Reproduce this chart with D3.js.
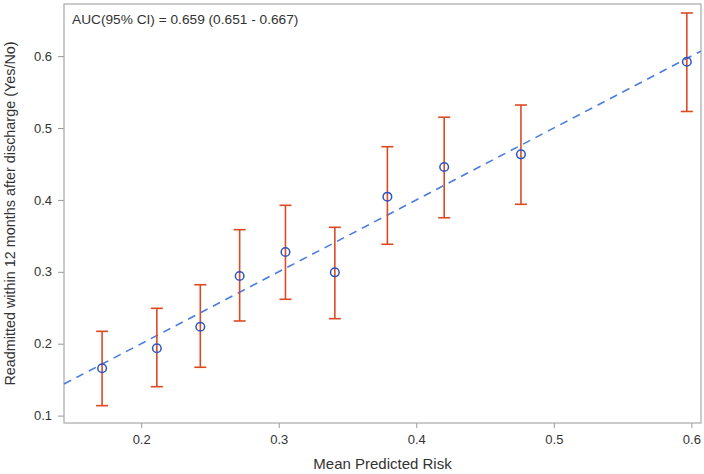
<!DOCTYPE html>
<html>
<head>
<meta charset="utf-8">
<script src="https://cdn.jsdelivr.net/npm/d3@7"></script>
<style>
body { margin: 0; background: #fff; }
text { font-family: "Liberation Sans", Arial, sans-serif; fill: #333; }
</style>
</head>
<body>
<div id="chart"></div>
<script>
// mean predicted risk per group and observed readmission rate with 95% CI
const predicted = [0.1716, 0.2114, 0.2430, 0.2716, 0.3049, 0.3408, 0.3790, 0.4203, 0.4761, 0.5967];
const observed  = [0.1658, 0.1936, 0.2236, 0.2942, 0.3275, 0.2993, 0.4045, 0.4458, 0.4634, 0.5922];
const lower     = [0.1138, 0.1402, 0.1672, 0.2316, 0.2618, 0.2348, 0.3383, 0.3752, 0.3939, 0.5230];
const upper     = [0.2172, 0.2492, 0.2820, 0.3586, 0.3925, 0.3619, 0.4740, 0.5150, 0.5320, 0.6600];
const xTicks = [0.2, 0.3, 0.4, 0.5, 0.6];
const yTicks = [0.1, 0.2, 0.3, 0.4, 0.5, 0.6];
const aucLabel = 'AUC(95% CI) = 0.659 (0.651 - 0.667)';

const W = 704, H = 474;
const margin = {left: 64, right: 3, top: 4, bottom: 51};

const svg = d3.select('#chart').append('svg')
  .attr('width', W)
  .attr('height', H);

const x = d3.scaleLinear()
  .domain([0.1439, 0.6070])
  .range([margin.left, W - margin.right]);
const y = d3.scaleLinear()
  .domain([0.0897, 0.6725])
  .range([H - margin.bottom, margin.top]);

// axes
const xAxis = svg.append('g')
  .attr('transform', `translate(0,${H - margin.bottom})`)
  .call(d3.axisBottom(x).tickValues(xTicks).tickSize(5).tickPadding(7).tickFormat(d3.format('.1f')));
const yAxis = svg.append('g')
  .attr('transform', `translate(${margin.left},0)`)
  .call(d3.axisLeft(y).tickValues(yTicks).tickSize(6).tickPadding(6).tickFormat(d3.format('.1f')));
[xAxis, yAxis].forEach(a => {
  a.select('.domain').remove();
  a.selectAll('line').attr('stroke', '#999');
  a.selectAll('text').attr('font-size', 13).style('fill', '#333');
});

// frame
svg.append('rect')
  .attr('x', margin.left)
  .attr('y', margin.top)
  .attr('width', W - margin.left - margin.right)
  .attr('height', H - margin.top - margin.bottom)
  .attr('fill', 'none')
  .attr('stroke', '#a8a8a8')
  .attr('stroke-width', 1.2);

// reference diagonal
const d = x.domain();
svg.append('line')
  .attr('x1', x(d[0])).attr('y1', y(d[0]))
  .attr('x2', x(d[1])).attr('y2', y(d[1]))
  .attr('stroke', '#4a7de0')
  .attr('stroke-width', 1.6)
  .attr('stroke-dasharray', '8,6');

const idx = d3.range(predicted.length);
const red = '#dc4a22';

// error bars
const eb = svg.append('g').attr('stroke', red).attr('stroke-width', 1.6);
eb.selectAll('.v').data(idx).join('line')
  .attr('x1', i => x(predicted[i])).attr('x2', i => x(predicted[i]))
  .attr('y1', i => y(lower[i])).attr('y2', i => y(upper[i]));
eb.selectAll('.t').data(idx).join('line')
  .attr('x1', i => x(predicted[i]) - 6).attr('x2', i => x(predicted[i]) + 6)
  .attr('y1', i => y(upper[i])).attr('y2', i => y(upper[i]));
eb.selectAll('.b').data(idx).join('line')
  .attr('x1', i => x(predicted[i]) - 6).attr('x2', i => x(predicted[i]) + 6)
  .attr('y1', i => y(lower[i])).attr('y2', i => y(lower[i]));

// observed points
svg.selectAll('circle').data(idx).join('circle')
  .attr('cx', i => x(predicted[i]))
  .attr('cy', i => y(observed[i]))
  .attr('r', 4.3)
  .attr('fill', 'none')
  .attr('stroke', '#2a55c4')
  .attr('stroke-width', 1.5);

// AUC annotation
svg.append('text')
  .attr('x', 72)
  .attr('y', 24)
  .attr('font-size', 13.7)
  .text(aucLabel);

// axis titles
svg.append('text')
  .attr('x', (margin.left + W - margin.right) / 2)
  .attr('y', 469)
  .attr('text-anchor', 'middle')
  .attr('font-size', 15)
  .text('Mean Predicted Risk');
svg.append('text')
  .attr('transform', `translate(15,${(margin.top + H - margin.bottom) / 2}) rotate(-90)`)
  .attr('text-anchor', 'middle')
  .attr('font-size', 14.4)
  .text('Readmitted within 12 months after discharge (Yes/No)');
</script>
</body>
</html>
